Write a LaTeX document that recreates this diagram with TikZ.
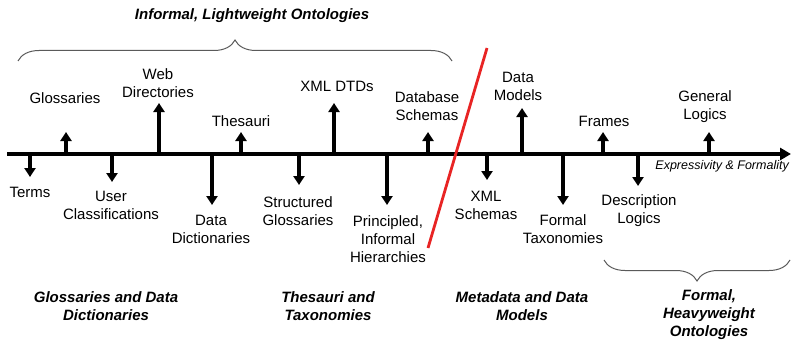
\documentclass[tikz,border=0pt]{standalone}
\usepackage{fontspec}
\setmainfont{Liberation Sans}
\usepackage{tikz}
\usetikzlibrary{arrows.meta, decorations.pathreplacing, positioning}

\definecolor{bracegray}{RGB}{90,90,90}
\definecolor{cutred}{RGB}{232,36,36}

\tikzset{
  lbl/.style={align=center, inner sep=0pt, font=\fontsize{15}{18}\selectfont},
  grp/.style={align=center, inner sep=0pt, font=\fontsize{15}{18}\selectfont\bfseries\itshape},
  tick/.style={line width=3.3pt, -{Triangle[width=11pt,length=9pt]}},
  axisline/.style={line width=3.3pt, -{Triangle[width=12pt,length=11pt]}},
  brc/.style={draw=bracegray, line width=1pt, decorate, decoration={brace, amplitude=21pt}},
}

\begin{document}
\begin{tikzpicture}[x=1pt, y=-1pt]
    \useasboundingbox (0,0) rectangle (791,345);

    % axis
    \coordinate (start) at (7,154);
    \coordinate (end) at (791,154);
    \draw[axisline] (start) -- (end);
    \node[lbl, anchor=east, font=\fontsize{12.5}{15}\selectfont\itshape] (axlbl) at (789,166) {Expressivity \& Formality};

    % ticks: name/x/tip
    \foreach \n/\x/\y in {terms/30/177, gloss/66/132, user/112/182, web/159/103,
                          dict/212/205, thes/241/132, struct/299/185, dtd/334/103,
                          princ/387/205, dbs/428/132, xsd/487/180, model/522/108,
                          tax/563/205, frames/603/132, dl/638/186, logic/709/132} {
      \coordinate (a\n) at (\x,154);
      \coordinate (t\n) at (\x,\y);
      \draw[tick] (a\n) -- (t\n);
    }

    % labels above
    \node[lbl] (glossaries) at (65,98) {Glossaries};
    \node[lbl] (webdir) at (158,83) {Web\\Directories};
    \node[lbl] (thesauri) at (241,121) {Thesauri};
    \node[lbl] (xmldtd) at (337,86) {XML DTDs};
    \node[lbl] (dbschema) at (427,106) {Database\\Schemas};
    \node[lbl] (datamodel) at (518,86) {Data\\Models};
    \node[lbl] (frames) at (604,121) {Frames};
    \node[lbl] (genlogic) at (705,107) {General\\Logics};

    % labels below
    \node[lbl] (terms) at (30,192) {Terms};
    \node[lbl] (userclass) at (111,205) {User\\Classifications};
    \node[lbl] (datadict) at (211,229) {Data\\Dictionaries};
    \node[lbl] (structgl) at (298,211) {Structured\\Glossaries};
    \node[lbl] (principled) at (388,239) {Principled,\\Informal\\Hierarchies};
    \node[lbl] (xmlschema) at (486,205) {XML\\Schemas};
    \node[lbl] (formaltax) at (563,229) {Formal\\Taxonomies};
    \node[lbl] (desclogic) at (639,211) {Description\\Logics};

    % the cut
    \coordinate (cuttop) at (487,48);
    \coordinate (cutbot) at (428,248);
    \draw[cutred, line width=2.8pt] (cuttop) -- (cutbot);

    % braces
    \coordinate (lwleft) at (18,61);
    \coordinate (lwright) at (452,61);
    \draw[brc] (lwleft) -- (lwright);
    \coordinate (hwleft) at (604,260);
    \coordinate (hwright) at (790,260);
    \draw[brc] (hwright) -- (hwleft);

    % groups
    \node[grp] (lightweight) at (252,16) {Informal, Lightweight Ontologies};
    \node[grp] (glossgrp) at (106,306) {Glossaries and Data\\Dictionaries};
    \node[grp] (thesgrp) at (328,306) {Thesauri and\\Taxonomies};
    \node[grp] (metagrp) at (522,306) {Metadata and Data\\Models};
    \node[grp] (heavyweight) at (709,315) {Formal,\\Heavyweight\\Ontologies};
\end{tikzpicture}
\end{document}
